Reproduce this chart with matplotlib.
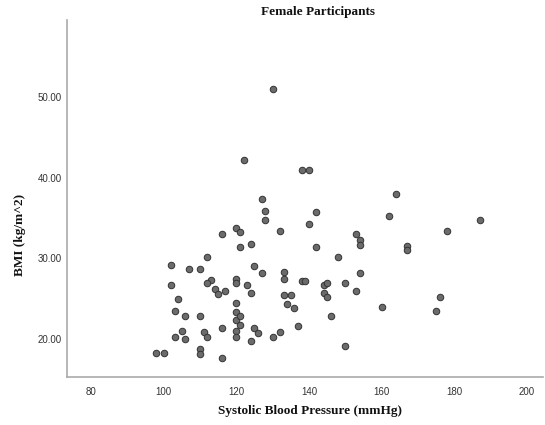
import matplotlib
matplotlib.use("Agg")
import matplotlib.pyplot as plt

# Systolic blood pressure (mmHg) and BMI (kg/m^2) for female participants
sbp = [130, 122, 138, 140, 127, 128, 128, 142, 140, 116,
       120, 121, 132, 153, 154, 154, 121, 124, 142, 164,
       162, 187, 178, 167, 167, 176, 160, 175, 112, 107,
       110, 125, 127, 133, 133, 138, 139, 113, 112, 120,
       120, 123, 114, 115, 117, 124, 104, 133, 135, 134,
       136, 120, 120, 120, 121, 121, 106, 110, 116, 125,
       126, 120, 120, 105, 111, 112, 106, 124, 130, 132,
       137, 110, 110, 116, 102, 102, 103, 103, 98, 100,
       148, 154, 144, 145, 150, 144, 145, 153, 146, 150]
bmi = [50.9, 42.2, 40.9, 40.9, 37.3, 35.8, 34.7, 35.7, 34.2, 33.0,
       33.8, 33.3, 33.4, 33.0, 32.3, 31.7, 31.4, 31.8, 31.4, 37.9,
       35.2, 34.8, 33.4, 31.5, 31.0, 25.2, 24.0, 23.5, 30.2, 28.7,
       28.7, 29.1, 28.2, 28.3, 27.4, 27.2, 27.2, 27.3, 27.0, 27.4,
       26.9, 26.7, 26.2, 25.6, 25.9, 25.7, 25.0, 25.5, 25.5, 24.3,
       23.8, 24.5, 23.4, 22.4, 22.9, 21.7, 22.8, 22.8, 21.4, 21.4,
       20.7, 21.0, 20.2, 21.0, 20.9, 20.3, 20.0, 19.8, 20.2, 20.9,
       21.6, 18.8, 18.2, 17.7, 29.2, 26.7, 23.5, 20.2, 18.3, 18.3,
       30.2, 28.2, 26.7, 26.9, 26.9, 25.7, 25.2, 25.9, 22.9, 19.2]

x_ticks = [80, 100, 120, 140, 160, 180, 200]
y_ticks = [20, 30, 40, 50]

fig = plt.figure(figsize=(5.45, 4.25), dpi=100)
ax = fig.add_axes([67 / 545, 48 / 425, 476 / 545, 357 / 425])

ax.scatter(sbp, bmi, s=22, facecolor="#6b6b6b", edgecolor="#333333",
           linewidths=0.7, zorder=3)

ax.set_xlim(73.4, 204.4)
ax.set_ylim(15.3, 59.5)
ax.set_xticks(x_ticks)
ax.set_xticklabels([str(v) for v in x_ticks])
ax.set_yticks(y_ticks)
ax.set_yticklabels([f"{v:.2f}" for v in y_ticks])

for side in ("top", "right"):
    ax.spines[side].set_visible(False)
for side in ("left", "bottom"):
    ax.spines[side].set_color("#aaaaaa")
    ax.spines[side].set_linewidth(1.2)

ax.tick_params(axis="both", length=0, labelsize=7, labelcolor="#333333")
ax.tick_params(axis="x", pad=7)
ax.tick_params(axis="y", pad=4)
for lab in ax.get_xticklabels() + ax.get_yticklabels():
    lab.set_family("Liberation Sans")

serif = dict(family="Liberation Serif", weight="bold", color="#111111")
fig.text(318 / 545, 1 - 12 / 425, "Female Participants", ha="center",
         va="center", fontsize=9.5, **serif)
fig.text(310 / 545, 1 - 411 / 425, "Systolic Blood Pressure (mmHg)",
         ha="center", va="center", fontsize=9.5, **serif)
fig.text(20 / 545, 1 - 235 / 425, "BMI (kg/m^2)", ha="center",
         va="center", rotation=90, fontsize=9.5, **serif)

fig.savefig("out.png", dpi=100)
